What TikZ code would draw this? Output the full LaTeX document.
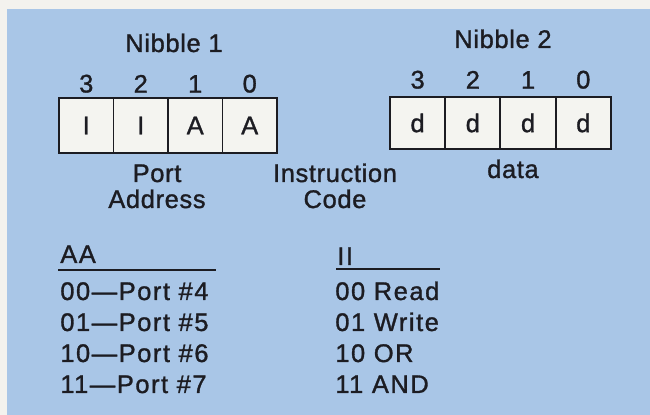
\documentclass[tikz,border=0pt]{standalone}
\usepackage{fontspec}
\setmainfont{Liberation Sans}[LetterSpace=2.5,FakeBold=1.2]
\newfontfamily\listfont{Liberation Sans}[LetterSpace=6,FakeBold=1.2]
\usetikzlibrary{positioning}
\definecolor{panelblue}{HTML}{A9C6E7}
\definecolor{paperwhite}{HTML}{F3F2EE}
\definecolor{inkdark}{HTML}{1C1C22}
\definecolor{cellwhite}{HTML}{F4F4F0}

\begin{document}
\begin{tikzpicture}[x=0.02cm,y=-0.02cm,
  every node/.style={text=inkdark,font=\fontsize{14.5}{17}\selectfont},
  cell/.style={draw=inkdark,fill=cellwhite,line width=1.1pt,outer sep=0pt,
    inner sep=0pt,minimum width=1.09cm,minimum height=1.1cm},
  rcell/.style={cell,minimum width=1.105cm,minimum height=1.04cm},
  bitnum/.style={inner sep=0pt},
  txt/.style={inner sep=0pt,anchor=base},
  row/.style={inner sep=0pt,anchor=base west,font=\listfont\fontsize{14.5}{17}\selectfont},
  rule/.style={draw=inkdark,line width=1.2pt}]
  % background
  \fill[paperwhite] (0,0) rectangle (650,415);
  \fill[panelblue] (7,9) rectangle (650,415);
  % nibble 1
  \node[txt] (nib1) at (174,52) {Nibble 1};
  \node[cell] (p3) at (86.25,125.5) {I};
  \node[cell,right=0pt of p3] (p2) {I};
  \node[cell,right=0pt of p2] (p1) {A};
  \node[cell,right=0pt of p1] (p0) {A};
  \foreach \b in {3,2,1,0}
    \node[bitnum,above=2.8pt of p\b] (pb\b) {\b};
  % nibble 2
  \node[txt] (nib2) at (503,48) {Nibble 2};
  \node[rcell] (d3) at (417.6,123) {d};
  \node[rcell,right=0pt of d3] (d2) {d};
  \node[rcell,right=0pt of d2] (d1) {d};
  \node[rcell,right=0pt of d1] (d0) {d};
  \foreach \b in {3,2,1,0}
    \node[bitnum,above=4.5pt of d\b] (db\b) {\b};
  % field names
  \node[txt] (port) at (157,182) {Port};
  \node[txt] (addr) at (157,208) {Address};
  \node[txt] (instr) at (335,182) {Instruction};
  \node[txt] (code) at (335,208) {Code};
  \node[txt] (data) at (513,178) {data};
  % tables
  \node[row] (aa) at (60,263) {AA};
  \coordinate (aaL) at (58,270);
  \coordinate (aaR) at (216,270);
  \draw[rule] (aaL) -- (aaR);
  \node[row] (ii) at (337,265) {II};
  \coordinate (iiL) at (336,269);
  \coordinate (iiR) at (440,269);
  \draw[rule] (iiL) -- (iiR);
  \node[row] (a00) at (60,300) {00—Port \#4};
  \node[row] (a01) at (60,331) {01—Port \#5};
  \node[row] (a10) at (60,362) {10—Port \#6};
  \node[row] (a11) at (60,393) {11—Port \#7};
  \node[row] (i00) at (335,300) {00 Read};
  \node[row] (i01) at (335,331) {01 Write};
  \node[row] (i10) at (335,362) {10 OR};
  \node[row] (i11) at (335,393) {11 AND};
\end{tikzpicture}
\end{document}
